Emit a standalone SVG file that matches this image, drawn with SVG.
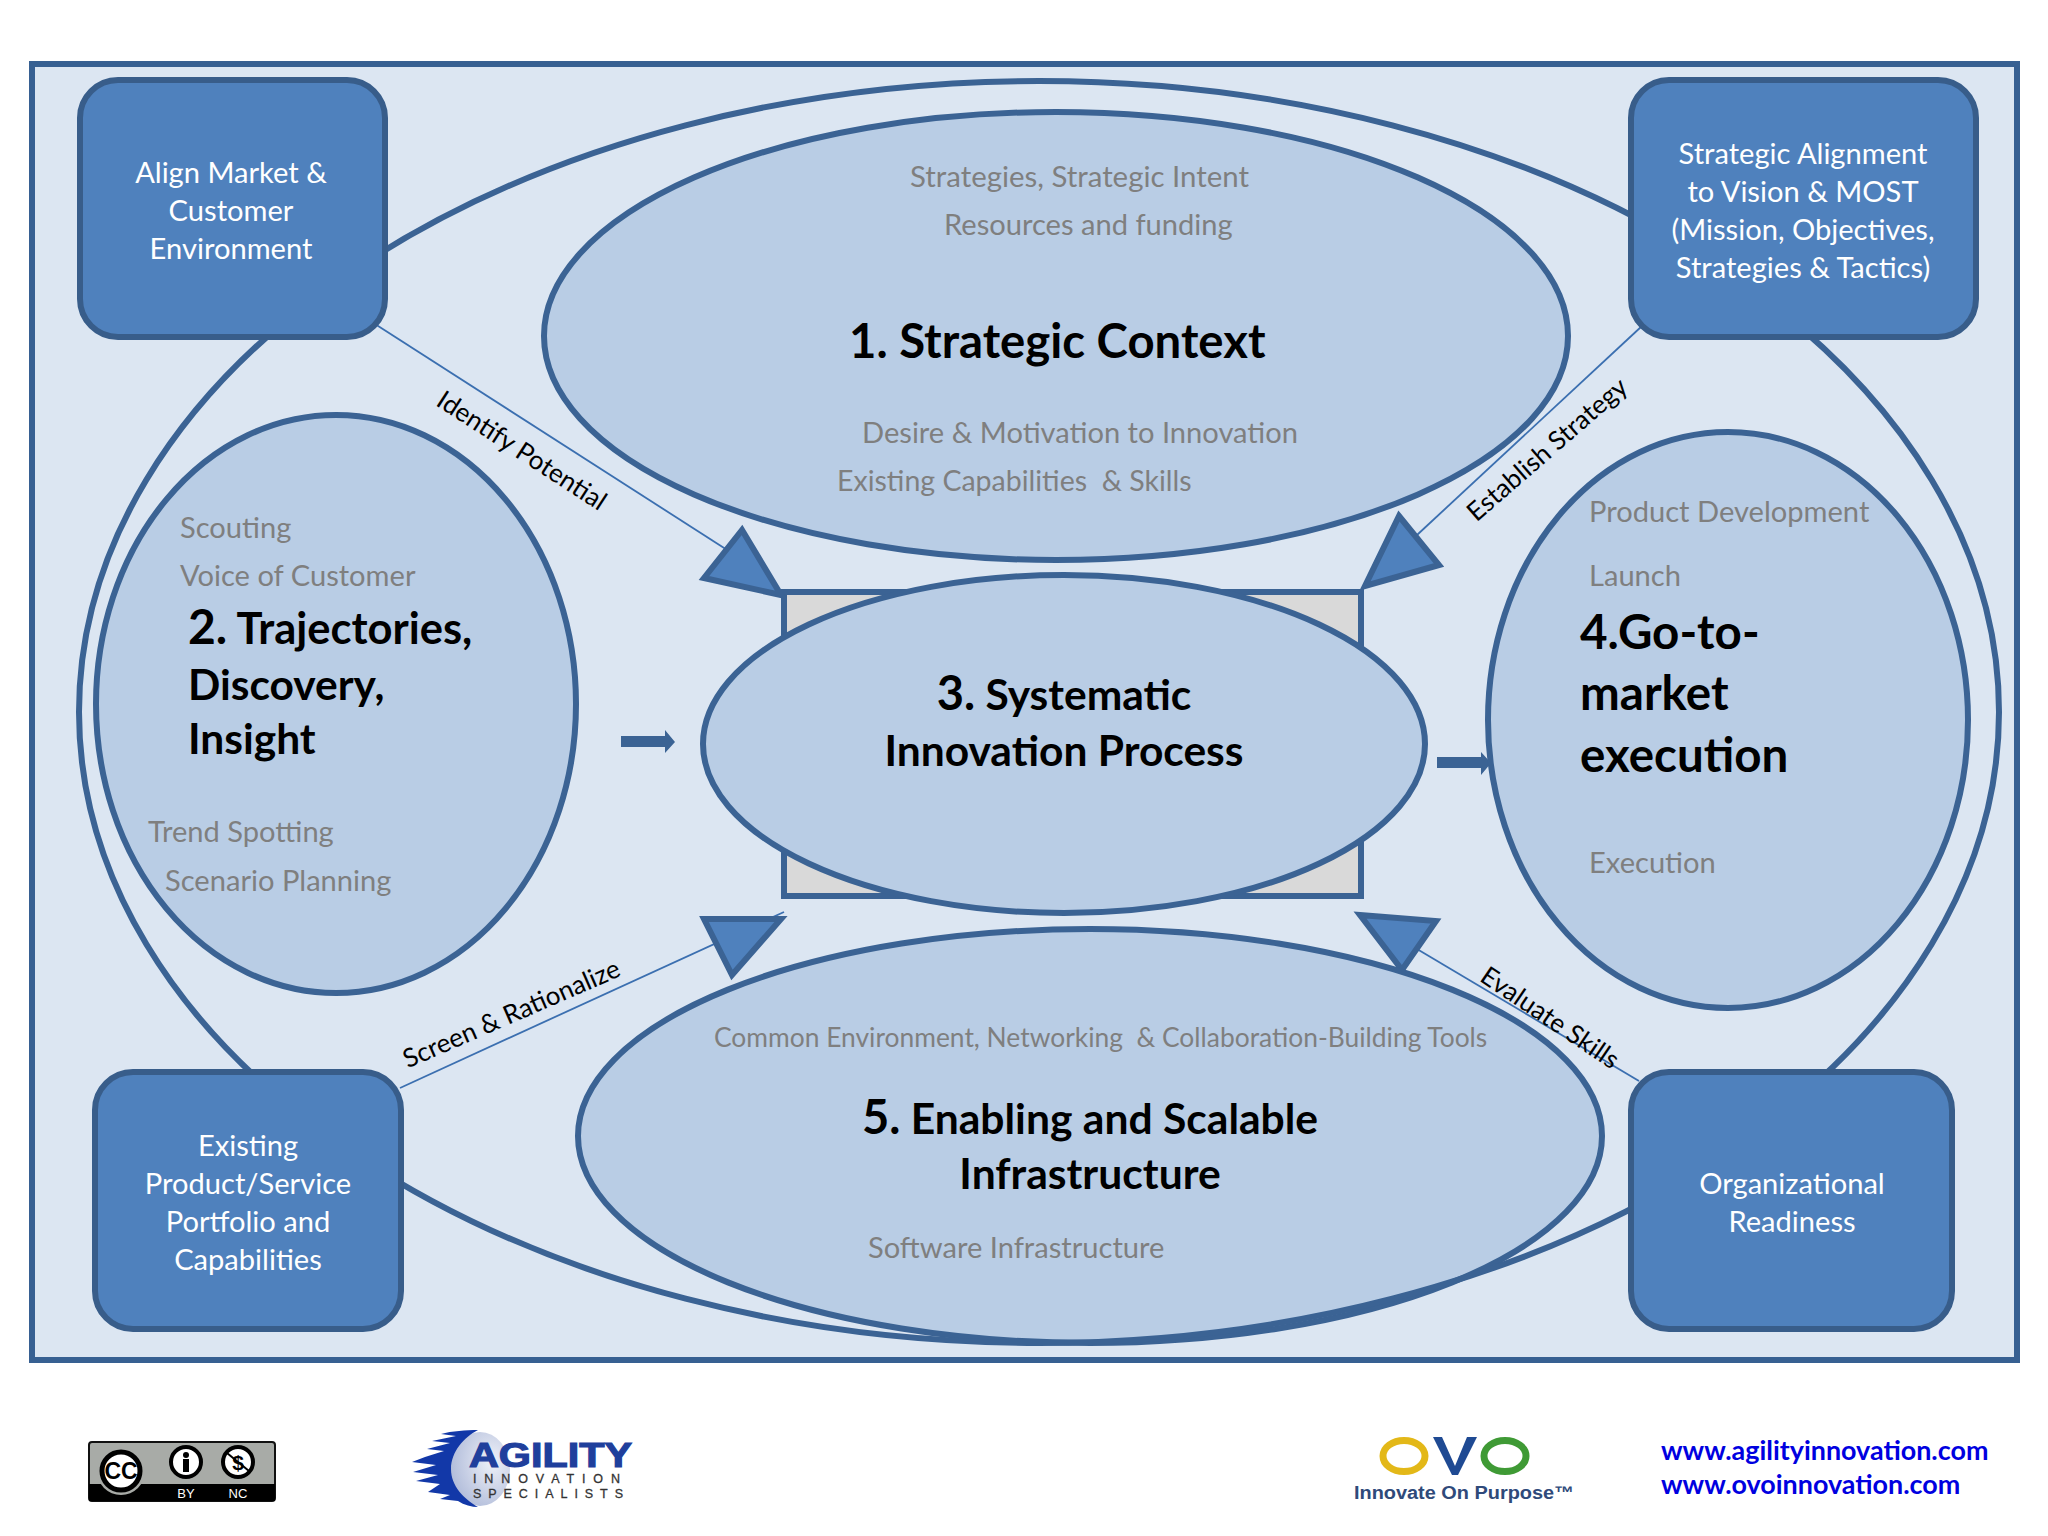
<svg xmlns="http://www.w3.org/2000/svg" width="2048" height="1536" viewBox="0 0 2048 1536">
<style>
text{font-family:"Lato","Open Sans",sans-serif;white-space:pre}
.el{fill:#b9cde5;stroke:#3b6394;stroke-width:6}
.box{fill:#4f81bd;stroke:#385d8a;stroke-width:6}
.tri{fill:#4f81bd;stroke:#3b6394;stroke-width:6;stroke-linejoin:miter}
.g{fill:#7f7f7f;font-size:29.1px}
.w{fill:#fff;font-size:29.1px;text-anchor:middle}
.b{fill:#000;font-weight:700}
.l{fill:#000;font-size:26px;text-anchor:middle}
.thin{stroke:#3b6fb0;stroke-width:1.8;fill:none}
.arr{fill:#3b6394}
.s{font-family:"Liberation Sans",sans-serif}
</style>
<defs><radialGradient id="silver" cx="0.7" cy="0.4" r="0.8"><stop offset="0" stop-color="#eef1f8"/><stop offset="1" stop-color="#a9b5d6"/></radialGradient></defs>
<rect width="2048" height="1536" fill="#fff"/>
<rect id="frame" x="32" y="64" width="1985" height="1296" fill="#dce6f2" stroke="#376092" stroke-width="6"/>
<g id="connectors">
<line class="thin" x1="375" y1="324" x2="735" y2="555"/>
<line class="thin" x1="1642" y1="326" x2="1417" y2="535"/>
<line class="thin" x1="400" y1="1088" x2="784" y2="912"/>
<line class="thin" x1="1639" y1="1081" x2="1417" y2="949"/>
<path class="arr" d="M621 736H665V730L675 742L665 753V747H621Z"/>
<path class="arr" d="M1437 757H1481V752L1491 763L1481 775V768H1437Z"/>
</g>
<g id="core-rect"><rect x="784" y="592" width="577" height="304" fill="#d9d9d9" stroke="#3b6394" stroke-width="6"/></g>
<g id="tri-tl"><polygon class="tri" points="742,530 704,578 781,595"/></g>
<g id="tri-tr"><polygon class="tri" points="1399,516 1439,565 1365,586"/></g>
<g id="tri-bl"><polygon class="tri" points="704,919 781,919 732,975"/></g>
<g id="tri-br"><polygon class="tri" points="1360,915 1436,921 1402,970"/></g>
<g id="n1"><ellipse class="el" cx="1056" cy="336" rx="512" ry="224"/>
<text class="g" x="910" y="187" style="font-size:29.4px">Strategies, Strategic Intent</text>
<text class="g" x="944" y="235">Resources and funding</text>
<text class="b" x="849" y="358" font-size="47.3">1. Strategic Context</text>
<text class="g" x="862" y="443">Desire &amp; Motivation to Innovation</text>
<text class="g" x="837" y="491" style="font-size:28.5px">Existing Capabilities  &amp; Skills</text></g>
<g id="n2"><ellipse class="el" cx="336" cy="704" rx="240" ry="289"/>
<text class="g" x="180" y="538">Scouting</text>
<text class="g" x="180" y="586">Voice of Customer</text>
<text class="b" x="188" y="644" font-size="43.5"><tspan font-size="48">2.</tspan> Trajectories,</text>
<text class="b" x="188" y="700" font-size="42.5">Discovery,</text>
<text class="b" x="188" y="754" font-size="42.5">Insight</text>
<text class="g" x="148" y="842">Trend Spotting</text>
<text class="g" x="165" y="891">Scenario Planning</text></g>
<g id="n4"><ellipse class="el" cx="1728" cy="720" rx="240" ry="288"/>
<text class="g" x="1589" y="522">Product Development</text>
<text class="g" x="1589" y="586">Launch</text>
<text class="b" x="1580" y="649" font-size="47.5">4.Go-to-</text>
<text class="b" x="1580" y="710" font-size="47.5">market</text>
<text class="b" x="1580" y="772" font-size="47.5">execution</text>
<text class="g" x="1589" y="873">Execution</text></g>
<g id="n5"><ellipse class="el" cx="1090" cy="1136" rx="512" ry="207"/>
<text class="g" x="714" y="1047" style="font-size:26.4px">Common Environment, Networking  &amp; Collaboration-Building Tools</text>
<text class="b" x="1090" y="1134" font-size="42.6" text-anchor="middle"><tspan font-size="47">5.</tspan> Enabling and Scalable</text>
<text class="b" x="1090" y="1189" font-size="42.6" text-anchor="middle">Infrastructure</text>
<text class="g" x="868" y="1258">Software Infrastructure</text></g>
<ellipse id="outer" cx="1039" cy="712" rx="960" ry="631" fill="none" stroke="#3b6394" stroke-width="6"/>
<g id="n3"><ellipse class="el" cx="1064" cy="744" rx="361" ry="169"/>
<text class="b" x="1064" y="710" font-size="42.5" text-anchor="middle"><tspan font-size="47">3.</tspan> Systematic</text>
<text class="b" x="1064" y="766" font-size="42.5" text-anchor="middle">Innovation Process</text></g>
<g id="box-tl"><rect class="box" x="80" y="80" width="305" height="257" rx="38"/>
<text class="w" x="231" y="183">Align Market &amp;</text><text class="w" x="231" y="221">Customer</text><text class="w" x="231" y="259">Environment</text></g>
<g id="box-tr"><rect class="box" x="1631" y="80" width="345" height="257" rx="38"/>
<text class="w" x="1803" y="164">Strategic Alignment</text><text class="w" x="1803" y="202">to Vision &amp; MOST</text><text class="w" x="1803" y="240">(Mission, Objectives,</text><text class="w" x="1803" y="278">Strategies &amp; Tactics)</text></g>
<g id="box-bl"><rect class="box" x="95" y="1072" width="306" height="257" rx="38"/>
<text class="w" x="248" y="1156">Existing</text><text class="w" x="248" y="1194">Product/Service</text><text class="w" x="248" y="1232">Portfolio and</text><text class="w" x="248" y="1270">Capabilities</text></g>
<g id="box-br"><rect class="box" x="1631" y="1072" width="321" height="257" rx="38"/>
<text class="w" x="1792" y="1194">Organizational</text><text class="w" x="1792" y="1232">Readiness</text></g>
<g id="labels">
<text class="l" transform="translate(517,458) rotate(33)">Identify Potential</text>
<text class="l" transform="translate(1553,456) rotate(-41)">Establish Strategy</text>
<text class="l" transform="translate(515,1022) rotate(-23.5)">Screen &amp; Rationalize</text>
<text class="l" transform="translate(1545,1025) rotate(34)">Evaluate Skills</text>
</g>
<g id="logo-cc">
<rect x="89" y="1442" width="186" height="59" rx="3" fill="#a8aba7" stroke="#111" stroke-width="2"/>
<rect x="89" y="1484" width="186" height="17" fill="#000"/>
<circle cx="121" cy="1471" r="24" fill="#a8aba7"/>
<circle cx="121" cy="1471" r="19" fill="#fff" stroke="#000" stroke-width="5"/>
<text class="s" x="121" y="1479" font-size="23" font-weight="700" text-anchor="middle">CC</text>
<circle cx="186" cy="1462" r="15" fill="#fff" stroke="#000" stroke-width="4"/>
<circle cx="186" cy="1455" r="3" fill="#000"/><rect x="183" y="1459" width="6" height="13" fill="#000"/>
<circle cx="238" cy="1462" r="15" fill="#fff" stroke="#000" stroke-width="4"/>
<text class="s" x="238" y="1470" font-size="21" font-weight="700" text-anchor="middle">$</text>
<line x1="227" y1="1453" x2="249" y2="1471" stroke="#000" stroke-width="2"/>
<text class="s" x="186" y="1498" font-size="13" fill="#fff" text-anchor="middle">BY</text>
<text class="s" x="238" y="1498" font-size="13" fill="#fff" text-anchor="middle">NC</text>
</g>
<g id="logo-agility">
<ellipse cx="480" cy="1469" rx="30" ry="37" fill="url(#silver)"/>
<path d="M478 1430C466 1430 452 1431 441 1434L456 1436L432 1441L450 1443L427 1449L444 1451L425 1457L412 1462L436 1465L413 1472L438 1475L416 1481L440 1484L428 1492L450 1495L440 1499L458 1501C464 1505 472 1507 478 1507C464 1499 451 1486 451 1469C451 1452 464 1437 478 1430Z" fill="#1238a8"/>
<text class="s" x="469" y="1467" font-size="35" font-weight="700" fill="#1f3f9c" stroke="#1f3f9c" stroke-width="1.2" textLength="163" lengthAdjust="spacingAndGlyphs">AGILITY</text>
<text class="s" x="473" y="1483" font-size="12.5" fill="#333" stroke="#333" stroke-width=".3" textLength="147" lengthAdjust="spacing">INNOVATION</text>
<text class="s" x="473" y="1497.5" font-size="12.5" fill="#333" stroke="#333" stroke-width=".3" textLength="150" lengthAdjust="spacing">SPECIALISTS</text>
</g>
<g id="logo-ovo">
<ellipse cx="1404" cy="1456" rx="21" ry="15.5" fill="none" stroke="#e3b818" stroke-width="7"/>
<path d="M1433 1437H1442L1455 1466L1467 1437H1477L1458 1475H1452Z" fill="#1f4a93"/>
<ellipse cx="1505" cy="1456" rx="21" ry="15.5" fill="none" stroke="#3f9a35" stroke-width="7"/>
<text class="s" x="1354" y="1499" font-size="18" font-weight="700" fill="#2f4a7a" textLength="220" lengthAdjust="spacingAndGlyphs">Innovate On Purpose™</text>
</g>
<g id="urls" font-weight="700" font-size="26.9" fill="#0000e0">
<text x="1661" y="1460">www.agilityinnovation.com</text>
<text x="1661" y="1494">www.ovoinnovation.com</text>
</g>
</svg>
